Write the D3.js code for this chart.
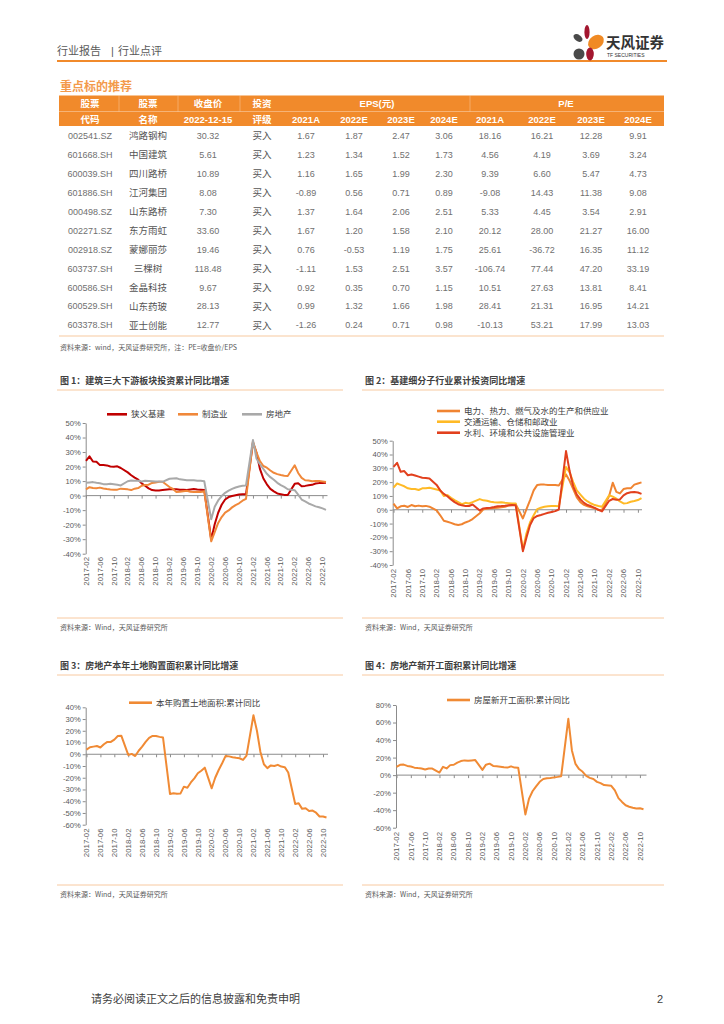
<!DOCTYPE html>
<html><head><meta charset="utf-8">
<script src="https://cdn.jsdelivr.net/npm/d3@7"></script>
<style>
body{margin:0;background:#fff;}
svg{display:block;font-family:"Noto Sans CJK SC","Noto Sans",sans-serif;}
</style></head><body>
<svg id="page" width="724" height="1024"></svg>
<script>
// ---------------- TABLE DATA ----------------
const codes = ["002541.SZ","601668.SH","600039.SH","601886.SH","000498.SZ","002271.SZ","002918.SZ","603737.SH","600586.SH","600529.SH","603378.SH"];
const names = ["鸿路钢构","中国建筑","四川路桥","江河集团","山东路桥","东方雨虹","蒙娜丽莎","三棵树","金晶科技","山东药玻","亚士创能"];
const prices = [30.32,5.61,10.89,8.08,7.30,33.60,19.46,118.48,9.67,28.13,12.77];
const ratings = ["买入","买入","买入","买入","买入","买入","买入","买入","买入","买入","买入"];
const eps2021A = [1.67,1.23,1.16,-0.89,1.37,1.67,0.76,-1.11,0.92,0.99,-1.26];
const eps2022E = [1.87,1.34,1.65,0.56,1.64,1.20,-0.53,1.53,0.35,1.32,0.24];
const eps2023E = [2.47,1.52,1.99,0.71,2.06,1.58,1.19,2.51,0.70,1.66,0.71];
const eps2024E = [3.06,1.73,2.30,0.89,2.51,2.10,1.75,3.57,1.15,1.98,0.98];
const pe2021A = [18.16,4.56,9.39,-9.08,5.33,20.12,25.61,-106.74,10.51,28.41,-10.13];
const pe2022E = [16.21,4.19,6.60,14.43,4.45,28.00,-36.72,77.44,27.63,21.31,53.21];
const pe2023E = [12.28,3.69,5.47,11.38,3.54,21.27,16.35,47.20,13.81,16.95,17.99];
const pe2024E = [9.91,3.24,4.73,9.08,2.91,16.00,11.12,33.19,8.41,14.21,13.03];
const headRow1 = ["股票","股票","收盘价","投资"];
const headRow2 = ["代码","名称","2022-12-15","评级","2021A","2022E","2023E","2024E","2021A","2022E","2023E","2024E"];

// ---------------- CHART DATA (monthly cumulative, Jan not published) ----------------
const months = [
"2017-02","2017-03","2017-04","2017-05","2017-06","2017-07","2017-08","2017-09","2017-10","2017-11","2017-12",
"2018-02","2018-03","2018-04","2018-05","2018-06","2018-07","2018-08","2018-09","2018-10","2018-11","2018-12",
"2019-02","2019-03","2019-04","2019-05","2019-06","2019-07","2019-08","2019-09","2019-10","2019-11","2019-12",
"2020-02","2020-03","2020-04","2020-05","2020-06","2020-07","2020-08","2020-09","2020-10","2020-11","2020-12",
"2021-02","2021-03","2021-04","2021-05","2021-06","2021-07","2021-08","2021-09","2021-10","2021-11","2021-12",
"2022-02","2022-03","2022-04","2022-05","2022-06","2022-07","2022-08","2022-09","2022-10","2022-11"];
const tickLabels = ["2017-02","2017-06","2017-10","2018-02","2018-06","2018-10","2019-02","2019-06","2019-10","2020-02","2020-06","2020-10","2021-02","2021-06","2021-10","2022-02","2022-06","2022-10"];

// Fig 1
const infra = [24,27,23.5,23.3,21,21,20.8,20,19.8,20.2,19,
 16,14,12.4,11,8.4,6.8,5,3.8,3.5,3.6,3.8,
 4.3,4.4,4.4,4.0,4.1,3.8,4.2,4.5,4.2,4.0,3.8,
 -30.3,-19.7,-11.8,-6.3,-2.7,-1.0,-0.3,0.2,0.7,1.0,0.9,
 36.6,29.7,18.4,11.8,7.8,4.6,2.9,1.5,1.0,0.5,0.4,
 8.1,8.5,6.5,6.7,7.1,7.4,8.3,8.6,8.7,8.9];
const manuf = [4.3,5.8,5.3,5.1,5.5,4.9,4.5,4.2,4.1,4.1,4.8,
 4.3,3.8,4.8,5.2,6.8,7.3,7.5,8.7,9.1,9.5,9.5,
 5.9,4.6,2.5,2.7,3.0,3.3,2.6,2.5,2.6,2.5,3.1,
 -31.5,-25.2,-18.8,-14.8,-11.7,-10.2,-8.1,-6.5,-5.3,-3.5,-2.2,
 37.3,29.8,23.8,20.4,19.2,17.3,15.7,14.8,14.2,13.7,13.5,
 20.9,15.6,12.2,10.6,10.4,9.9,10.0,10.1,9.7,9.3];
const realty = [8.9,9.1,9.3,8.8,8.5,7.9,7.9,8.1,7.8,7.5,7.0,
 9.9,10.4,10.3,10.2,9.7,10.2,10.1,9.9,9.7,9.7,9.5,
 11.6,11.8,11.9,11.2,10.9,10.6,10.5,10.5,10.3,10.2,9.9,
 -16.3,-7.7,-3.3,-0.3,1.9,3.4,4.6,5.6,6.3,6.8,7.0,
 38.3,25.6,21.6,18.3,15.0,12.7,10.9,8.8,7.2,6.0,4.4,
 3.7,0.7,-2.7,-4.0,-5.4,-6.4,-7.4,-8.0,-8.8,-9.8];
// Fig 2
const power = [4.5,1,2.5,2.9,2,3.4,2.5,3,2.5,2.8,2.2,
 -0.5,-4,-8,-8.7,-9.5,-10.5,-11,-10.5,-9.2,-8.2,-6.7,
 -2.5,0.3,0.8,1,1.2,1.4,1.8,2.2,3,3.5,4.1,
 -6.3,0.5,7,14,18,18.3,18.2,17.9,18,17.9,17.6,
 25.6,21,15,9,5.5,3.5,2.5,1.8,1,0,-0.2,
 10,19.6,13,11.8,15,15.5,15.5,18.2,19,19.8];
const transport = [16,19,18,17,15.5,15,15,14.3,15.5,15.5,16,
 14.7,14,10,10.6,8.7,7,5.5,4,5,4.5,5.5,
 7.7,6.8,6.5,5.8,5.5,5.3,5.5,5,4.8,4.6,4.5,
 -29,-17,-9,-4,0.5,1.5,2.2,2.5,2.7,2.7,2.5,
 31,27,20,14,11,8,6,4.5,3.4,2.7,2.2,
 10.5,9.5,8,6,4.6,4.8,5.8,6.3,7,8.5];
const water = [31,34,27.5,28,25,25.5,24.8,24,23.2,23,22.7,
 18,14,11.5,9.8,7.5,5.5,4,3.2,2.8,2.7,3.8,
 -0.5,1,1.3,1.5,2,2.6,2.7,2.9,3.2,3.5,3.2,
 -30,-20,-11,-6,-4.5,-3.8,-3,-2.2,-1.6,-1,0.2,
 42.5,28,17,11,7.5,5,3.4,2.5,1.4,0,-1.2,
 6.5,7.8,7.3,7.5,10.4,12,12.7,12.8,12.5,11.5];
// Fig 3
const landArea = [4,6,6.5,7,5.8,8.5,10.5,10.5,12.5,15.5,15.8,
 -0.6,0.3,-1.5,3,6.5,10.5,14,15.6,15.5,14.8,14.2,
 -33.8,-33.2,-33.6,-33.5,-27.6,-28.5,-24,-20.5,-16.2,-14,-11.4,
 -29,-20,-13.4,-7.7,-1.4,-1.8,-2.5,-3,-3.4,-4.8,-1.1,
 33.2,20,2,-8.5,-11.8,-9.5,-10,-9,-10.5,-11,-15.5,
 -42.3,-41.8,-46.5,-46,-48.3,-48,-49.8,-53,-53,-53.8];
// Fig 4
const newStarts = [9.5,11.8,12,10.5,9.8,8.5,8,7.6,6.5,7.6,7.5,
 2.9,9.5,7.6,11.4,11.8,14.3,16,16.8,16.3,16.8,17.2,
 6,11.9,13.1,10.5,10.1,9.5,8.9,8.6,10,8.6,8.5,
 -44.9,-27.2,-18.4,-12.8,-7.6,-4.5,-3.6,-3.4,-2.6,-2.0,-1.2,
 64.3,28.2,12.8,6.9,3.8,-0.9,-3.2,-4.5,-7.7,-9.1,-11.4,
 -12.2,-17.5,-26.3,-30.6,-34.4,-36.1,-37.2,-38,-37.8,-38.9];

// ---------------- DRAW ----------------
const svg = d3.select("#page");
const CJK = '"Noto Sans CJK SC","Noto Sans",sans-serif';
const LAT = '"Liberation Sans",Arial,sans-serif';
const ORANGE = "#F18A2B";
const LIGHT = "#F8C9A0";

// Header
svg.append("text").attr("x",57).attr("y",55).attr("font-size",11).attr("fill","#595959").attr("font-family",CJK).text("行业报告");
svg.append("text").attr("x",111).attr("y",55).attr("font-size",11).attr("fill","#595959").attr("font-family",LAT).text("|");
svg.append("text").attr("x",118).attr("y",55).attr("font-size",11).attr("fill","#595959").attr("font-family",CJK).text("行业点评");
svg.append("line").attr("x1",57).attr("x2",667).attr("y1",61).attr("y2",61).attr("stroke",ORANGE).attr("stroke-width",2);
const logo = svg.append("g");
logo.append("ellipse").attr("cx",578).attr("cy",38).attr("rx",5).attr("ry",3.2).attr("transform","rotate(35,578,38)").attr("fill","#4a4a4a");
logo.append("ellipse").attr("cx",587).attr("cy",32).attr("rx",2.6).attr("ry",7).attr("fill","#A3162F");
logo.append("ellipse").attr("cx",596).attr("cy",42).attr("rx",8.5).attr("ry",6.5).attr("transform","rotate(-35,596,42)").attr("fill","#F08A24");
logo.append("circle").attr("cx",579).attr("cy",54).attr("r",5.5).attr("fill","#4a4a4a");
logo.append("ellipse").attr("cx",590).attr("cy",54).attr("rx",3.8).attr("ry",6.5).attr("fill","#A3162F");
svg.append("text").attr("x",606).attr("y",48).attr("font-size",14.5).attr("font-weight","bold").attr("fill","#333").attr("font-family",CJK).text("天风证券");
svg.append("text").attr("x",607).attr("y",57).attr("font-size",5).attr("fill","#333").attr("font-family",LAT).text("TF SECURITIES");

// Table
svg.append("text").attr("x",60).attr("y",91).attr("font-size",12).attr("font-weight","bold").attr("fill","#F39A4B").attr("font-family",CJK).text("重点标的推荐");
const colC = [90,148,208,262,306,354,401,444,490,542,591,638];
const tX0 = 59, tX1 = 664;
svg.append("rect").attr("x",tX0).attr("y",95.5).attr("width",tX1-tX0).attr("height",30.5).attr("fill",ORANGE);
svg.append("line").attr("x1",tX0).attr("x2",tX1).attr("y1",111.5).attr("y2",111.5).attr("stroke","rgba(255,255,255,0.45)").attr("stroke-width",0.8);
[119,178,240,470].forEach(v=>svg.append("line").attr("x1",v).attr("x2",v).attr("y1",95.5).attr("y2",111.5).attr("stroke","rgba(255,255,255,0.35)").attr("stroke-width",0.8));
const hd = svg.append("g").attr("fill","#fff").attr("font-weight","bold").attr("font-size",9.5).attr("text-anchor","middle");
headRow1.forEach((t,i)=>hd.append("text").attr("x",colC[i]).attr("y",107).attr("font-family",CJK).text(t));
const epsT = hd.append("text").attr("x",377).attr("y",107).attr("font-family",LAT);
epsT.append("tspan").text("EPS(");
epsT.append("tspan").attr("font-family",CJK).text("元");
epsT.append("tspan").text(")");
hd.append("text").attr("x",566).attr("y",107).attr("font-family",LAT).text("P/E");
headRow2.forEach((t,i)=>hd.append("text").attr("x",colC[i]).attr("y",122.5).attr("font-family",i===0||i===1||i===3?CJK:LAT).text(t));

const rowY = d3.scaleLinear().domain([0,1]).range([135.7,154.65]);
const body = svg.append("g").attr("fill","#707070").attr("text-anchor","middle");
const numCols = [prices,eps2021A,eps2022E,eps2023E,eps2024E,pe2021A,pe2022E,pe2023E,pe2024E];
codes.forEach((c,i)=>{
  const y = rowY(i)+3.2;
  body.append("text").attr("x",colC[0]).attr("y",y).attr("font-size",9).attr("font-family",LAT).text(c);
  body.append("text").attr("x",colC[1]).attr("y",y+0.3).attr("font-size",9.5).attr("fill","#555").attr("font-family",CJK).text(names[i]);
  body.append("text").attr("x",colC[3]).attr("y",y+0.3).attr("font-size",9.5).attr("fill","#555").attr("font-family",CJK).text(ratings[i]);
  numCols.forEach((arr,k)=>{
    const ci = k===0?2:k+3;
    body.append("text").attr("x",colC[ci]).attr("y",y).attr("font-size",9).attr("font-family",LAT).text(arr[i].toFixed(2));
  });
});
svg.append("line").attr("x1",tX0).attr("x2",tX1).attr("y1",336).attr("y2",336).attr("stroke",LIGHT).attr("stroke-width",1.2);
svg.append("text").attr("x",60).attr("y",350).attr("font-size",7).attr("fill","#595959").attr("font-family",CJK).text("资料来源：wind，天风证券研究所，注：PE=收盘价/EPS");

// Panels frame
function panelFrame(x0,x1,titleY,lineTop,lineBot,title){
  svg.append("text").attr("x",x0+3).attr("y",titleY).attr("font-size",9).attr("font-weight","bold").attr("fill","#404040").attr("font-family",CJK).text(title);
  svg.append("line").attr("x1",x0).attr("x2",x1).attr("y1",lineTop).attr("y2",lineTop).attr("stroke",LIGHT).attr("stroke-width",1);
  svg.append("line").attr("x1",x0).attr("x2",x1).attr("y1",lineBot).attr("y2",lineBot).attr("stroke",LIGHT).attr("stroke-width",1);
  svg.append("text").attr("x",x0+3).attr("y",lineBot+12).attr("font-size",7).attr("fill","#595959").attr("font-family",CJK).text("资料来源：Wind，天风证券研究所");
}
panelFrame(57,343,384,390,618,"图 1：建筑三大下游板块投资累计同比增速");
panelFrame(362,664,384,390,618,"图 2：基建细分子行业累计投资同比增速");
panelFrame(57,343,669,675,885,"图 3：房地产本年土地购置面积累计同比增速");
panelFrame(362,664,669,675,885,"图 4：房地产新开工面积累计同比增速");

function monthIdx(s){const p=s.split("-").map(Number);return (p[0]-2017)*12+(p[1]-2);}

function lineChart(cfg){
  const g = svg.append("g");
  const x = d3.scaleLinear().domain([0,69]).range([cfg.x0,cfg.x1]);
  const y = d3.scaleLinear().domain([cfg.yMin,cfg.yMax]).range([cfg.yBot,cfg.yTop]);
  const yTicks = d3.range(cfg.yMin,cfg.yMax+0.001,cfg.yStep);
  const ya = d3.axisLeft(y).tickValues(yTicks).tickSize(3).tickSizeOuter(0).tickPadding(2).tickFormat(d=>d+"%");
  const yg = g.append("g").attr("transform",`translate(${cfg.axisX},0)`).call(ya);
  yg.select(".domain").attr("stroke","#8c8c8c");
  yg.selectAll(".tick line").attr("stroke","#8c8c8c");
  yg.selectAll("text").attr("font-size",7.6).attr("fill","#595959").attr("font-family",LAT);
  const tIdx = tickLabels.map(monthIdx);
  const xa = d3.axisBottom(x).tickValues(tIdx).tickSize(3).tickSizeOuter(0).tickFormat("");
  const xg = g.append("g").attr("transform",`translate(0,${y(0)})`).call(xa);
  xg.select(".domain").remove();
  xg.selectAll(".tick line").attr("stroke","#8c8c8c");
  g.append("line").attr("x1",cfg.axisX).attr("x2",cfg.axisRight).attr("y1",y(0)).attr("y2",y(0)).attr("stroke","#8c8c8c").attr("stroke-width",1);
  g.selectAll("text.xl").data(tickLabels).join("text").attr("class","xl")
    .attr("transform",d=>`translate(${x(monthIdx(d))+2.7},${cfg.labelTop}) rotate(-90)`)
    .attr("text-anchor","end").attr("font-size",7.8).attr("fill","#595959").attr("font-family",LAT).text(d=>d);
  const line = d3.line().x((d,i)=>x(monthIdx(months[i]))).y(d=>y(d));
  cfg.series.forEach(s=>{
    g.append("path").datum(s.values).attr("d",line).attr("fill","none").attr("stroke",s.color).attr("stroke-width",s.w||2).attr("stroke-linejoin","round");
  });
  cfg.legend.forEach(l=>{
    g.append("line").attr("x1",l.x).attr("x2",l.x+l.len).attr("y1",l.y).attr("y2",l.y).attr("stroke",l.color).attr("stroke-width",2.6);
    g.append("text").attr("x",l.x+l.len+4).attr("y",l.y+3).attr("font-size",8.5).attr("fill","#404040").attr("font-family",CJK).text(l.text);
  });
}

const C1 = {red:"#C00000",orange:"#F0883A",gray:"#A9A9A9"};
lineChart({x0:86,x1:326,axisX:85.7,axisRight:327.5,yMin:-40,yMax:50,yStep:10,yTop:423,yBot:553.7,labelTop:557,
  series:[{values:infra,color:C1.red},{values:manuf,color:C1.orange},{values:realty,color:C1.gray}],
  legend:[{x:107,y:414.3,len:20,color:C1.red,text:"狭义基建"},{x:178,y:414.3,len:20,color:C1.orange,text:"制造业"},{x:242,y:414.3,len:20,color:C1.gray,text:"房地产"}]});

const C2 = {orange:"#F08431",yellow:"#FFBA26",red:"#E2401D"};
lineChart({x0:393.5,x1:641.5,axisX:392.7,axisRight:642,yMin:-40,yMax:50,yStep:10,yTop:440.7,yBot:565,labelTop:569,
  series:[{values:power,color:C2.orange},{values:transport,color:C2.yellow},{values:water,color:C2.red}],
  legend:[{x:437,y:411,len:23,color:C2.orange,text:"电力、热力、燃气及水的生产和供应业"},{x:437,y:421.7,len:23,color:C2.yellow,text:"交通运输、仓储和邮政业"},{x:437,y:432.7,len:23,color:C2.red,text:"水利、环境和公共设施管理业"}]});

lineChart({x0:86.5,x1:326.5,axisX:85.7,axisRight:328,yMin:-60,yMax:40,yStep:10,yTop:707.3,yBot:824.7,labelTop:828.5,
  series:[{values:landArea,color:"#F08A34"}],
  legend:[{x:129,y:702.7,len:23,color:"#F08A34",text:"本年购置土地面积:累计同比"}]});

lineChart({x0:396.5,x1:643.5,axisX:396,axisRight:646.5,yMin:-60,yMax:80,yStep:20,yTop:705,yBot:827.7,labelTop:832,
  series:[{values:newStarts,color:"#F08A34"}],
  legend:[{x:447,y:700,len:23,color:"#F08A34",text:"房屋新开工面积:累计同比"}]});

// Footer
svg.append("text").attr("x",91).attr("y",1003).attr("font-size",11).attr("fill","#404040").attr("font-family",CJK).text("请务必阅读正文之后的信息披露和免责申明");
svg.append("text").attr("x",657).attr("y",1003).attr("font-size",11).attr("fill","#404040").attr("font-family",LAT).text("2");
</script>
</body></html>
